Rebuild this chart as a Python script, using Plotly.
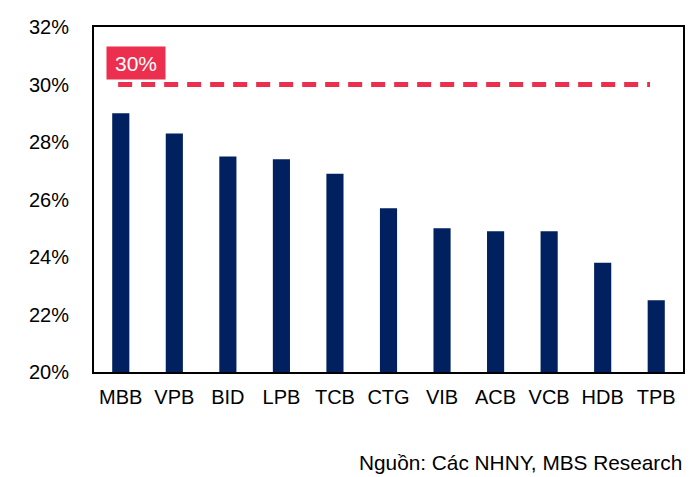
import plotly.graph_objects as go

banks = ["MBB", "VPB", "BID", "LPB", "TCB", "CTG", "VIB", "ACB", "VCB", "HDB", "TPB"]
values = [29.0, 28.3, 27.5, 27.4, 26.9, 25.7, 25.0, 24.9, 24.9, 23.8, 22.5]
cap_level = 30
cap_label = "30%"
source_text = "Nguồn: Các NHNY, MBS Research"
y_ticks = [20, 22, 24, 26, 28, 30, 32]
y_tick_text = [f"{v}%" for v in y_ticks]

FONT = "Liberation Sans, Arial, sans-serif"
NAVY = "#002060"
RED = "#EC2F4E"

fig = go.Figure()
fig.add_trace(go.Bar(x=banks, y=values, marker=dict(color=NAVY, line=dict(width=0)),
                     hoverinfo="x+y"))

fig.add_shape(type="line", xref="paper", yref="y", x0=0.041, x1=0.944,
              y0=cap_level, y1=cap_level,
              line=dict(color=RED, width=5, dash="14px,9px"))

fig.add_annotation(xref="paper", yref="y", x=0.0204, y=cap_level, xanchor="left",
                   yanchor="bottom", yshift=5, text=cap_label, showarrow=False,
                   bgcolor=RED, width=58, height=32, borderpad=0,
                   font=dict(family=FONT, size=21, color="white"))

fig.add_annotation(xref="paper", yref="paper", x=1, xshift=1, y=-0.261,
                   xanchor="right", yanchor="middle", text=source_text, showarrow=False,
                   font=dict(family=FONT, size=20.8, color="black"))

fig.update_layout(
    width=700, height=477,
    margin=dict(l=94, r=17, t=27, b=105),
    paper_bgcolor="white", plot_bgcolor="white",
    bargap=0.68, showlegend=False,
    font=dict(family=FONT, size=20, color="black"),
)
fig.update_xaxes(showline=True, linecolor="black", linewidth=2, mirror=True,
                 ticks="", showgrid=False, ticklabelstandoff=6,
                 tickfont=dict(family=FONT, size=20, color="black"))
fig.update_yaxes(range=[20, 32], tickmode="array", tickvals=y_ticks, ticktext=y_tick_text,
                 showline=True, linecolor="black", linewidth=2, mirror=True,
                 ticks="", showgrid=False, zeroline=False, ticklabelstandoff=19,
                 tickfont=dict(family=FONT, size=20, color="black"))

fig.write_html("out.html")
